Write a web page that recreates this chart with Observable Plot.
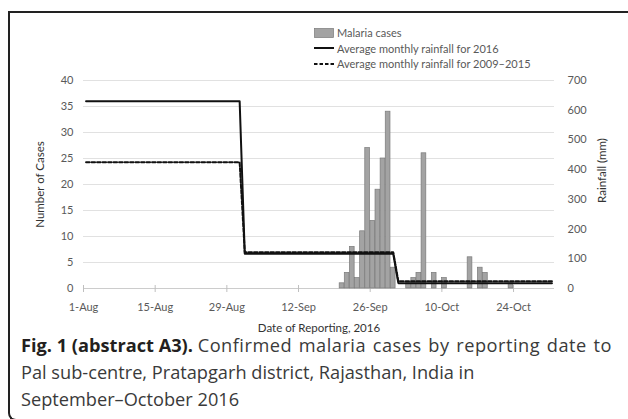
<!DOCTYPE html>
<html><head><meta charset="utf-8">
<script src="https://cdn.jsdelivr.net/npm/d3@7"></script>
<script src="https://cdn.jsdelivr.net/npm/@observablehq/plot@0.6"></script>
<style>
body{margin:0;background:#fff;width:628px;height:419px;overflow:hidden;position:relative;font-family:Lato,sans-serif}
#frame{position:absolute;left:8px;top:11px;width:700px;height:410px;border-left:2px solid #222;border-top:2px solid #222;border-bottom:2px solid #222;border-bottom-left-radius:8px;box-sizing:border-box}
#chart{position:absolute;left:0;top:0}
#legend{position:absolute;left:314px;top:25px;font-family:Lato,sans-serif;font-size:11px;color:#595959}
#legend .row{display:flex;align-items:center;height:15.5px;white-space:nowrap}
#legend svg{margin-right:3px}
#caption{position:absolute;left:21px;top:332px;font-family:"Open Sans",sans-serif;font-size:18.2px;line-height:26.8px;color:#3a3a3a;white-space:nowrap}
#caption .s{letter-spacing:0.5px;word-spacing:1.5px}
#caption b{color:#231f20;font-weight:700}
</style></head>
<body>
<div id="frame"></div>
<div id="chart"></div>
<div id="legend"></div>
<div id="caption"><div><b>Fig. 1 (abstract A3).</b> <span class="s">Confirmed malaria cases by reporting date to</span></div><div>Pal sub-centre, Pratapgarh district, Rajasthan, India in</div><div>September–October 2016</div></div>
<script>
// Daily confirmed malaria cases (days not listed = 0)
const caseDates = ["2016-09-20","2016-09-21","2016-09-22","2016-09-23","2016-09-24","2016-09-25","2016-09-26","2016-09-27","2016-09-28","2016-09-29","2016-09-30","2016-10-03","2016-10-04","2016-10-05","2016-10-06","2016-10-08","2016-10-10","2016-10-15","2016-10-17","2016-10-18","2016-10-23"];
const caseCounts = [1,3,8,2,11,27,13,19,25,34,4,1,2,3,26,3,2,6,4,3,1];

// Average monthly rainfall (mm)
const monthStarts = ["2016-08-01","2016-09-01","2016-10-01"];
const monthEnds = ["2016-08-31","2016-09-30","2016-10-31"];
const rain2016 = [630,117,18];
const rain2009to2015 = [425,122,24];

// Axis ticks
const leftTicks = [0,5,10,15,20,25,30,35,40];
const rightTicks = [0,100,200,300,400,500,600,700];
const xTickDates = ["2016-08-01","2016-08-15","2016-08-29","2016-09-12","2016-09-26","2016-10-10","2016-10-24"];
const xTickLabels = ["1-Aug","15-Aug","29-Aug","12-Sep","26-Sep","10-Oct","24-Oct"];

const ratio = rightTicks[rightTicks.length-1] / leftTicks[leftTicks.length-1];
const HALF_DAY = 12*3600*1000;
const cases = caseDates.map((d,i) => ({date: new Date(d), count: caseCounts[i]}));
function rainRows(vals){
  const rows = [];
  monthStarts.forEach((m,i) => {
    rows.push({date: new Date(+new Date(m) + HALF_DAY), mm: vals[i]});
    rows.push({date: new Date(+new Date(monthEnds[i]) + HALF_DAY), mm: vals[i]});
  });
  return rows;
}
const r2016 = rainRows(rain2016);
const rAvg = rainRows(rain2009to2015);
const xTicks = xTickDates.map(d => new Date(d));
const labelMap = new Map(xTicks.map((d,i) => [+d, xTickLabels[i]]));

const chart = Plot.plot({
  width: 628, height: 340,
  marginLeft: 83, marginRight: 74, marginTop: 80, marginBottom: 52,
  style: {fontFamily: "Lato, sans-serif", fontSize: "11px", color: "#595959", background: "transparent", overflow: "visible"},
  x: {type: "utc", domain: [new Date("2016-08-01"), new Date("2016-11-01")]},
  y: {domain: [0, 40]},
  marks: [
    Plot.gridY({ticks: leftTicks.filter(v => v > 0), stroke: "#d9d9d9", strokeOpacity: 1, strokeWidth: 0.8}),
    Plot.ruleY([0], {stroke: "#bfbfbf", strokeWidth: 0.8}),
    Plot.axisX({ticks: xTicks, tickSize: 7, dy: -3, tickFormat: () => "", label: null, stroke: "#bfbfbf"}),
    Plot.rectY(cases, {x: "date", y: "count", interval: "day", fill: "#a3a3a3", stroke: "#7a7a7a", strokeWidth: 0.7, insetLeft: 0.2, insetRight: 0.2}),
    Plot.line(rAvg, {x: "date", y: d => d.mm / ratio, stroke: "#111", strokeWidth: 2, strokeDasharray: "3.5,2"}),
    Plot.line(r2016, {x: "date", y: d => d.mm / ratio, stroke: "#111", strokeWidth: 2}),
    Plot.axisX({ticks: xTicks, tickSize: 0, tickPadding: 15, tickFormat: d => labelMap.get(+d), label: null}),
    Plot.axisY({ticks: leftTicks, tickSize: 0, tickPadding: 10, label: null}),
    Plot.axisY({anchor: "right", ticks: rightTicks.map(v => v / ratio), tickSize: 0, tickPadding: 13, tickFormat: d => Math.round(d * ratio), label: null}),
    Plot.text(["Date of Reporting, 2016"], {frameAnchor: "bottom", dy: 40, fontSize: 11.5, fill: "#333", textAnchor: "middle", lineAnchor: "middle"}),
    Plot.text(["Number of Cases"], {frameAnchor: "left", dx: -43, rotate: -90, fontSize: 11.5, fill: "#333", textAnchor: "middle", lineAnchor: "middle"}),
    Plot.text(["Rainfall (mm)"], {frameAnchor: "right", dx: 48, dy: -14, rotate: -90, fontSize: 11.5, fill: "#333", textAnchor: "middle", lineAnchor: "middle"})
  ]
});
document.getElementById("chart").appendChild(chart);

// Legend
const legendItems = [
  {label: "Malaria cases", type: "bar"},
  {label: "Average monthly rainfall for 2016", type: "solid"},
  {label: "Average monthly rainfall for 2009–2015", type: "dash"}
];
const lg = document.getElementById("legend");
legendItems.forEach(it => {
  const row = document.createElement("div");
  row.className = "row";
  let sw;
  if (it.type === "bar") sw = '<svg width="20" height="10"><rect x="0.5" y="0.5" width="19" height="9" fill="#a3a3a3" stroke="#7a7a7a" stroke-width="0.7"/></svg>';
  else sw = '<svg width="20" height="10"><line x1="0" x2="20" y1="5" y2="5" stroke="#111" stroke-width="2"' + (it.type === "dash" ? ' stroke-dasharray="3.5,2"' : '') + '/></svg>';
  row.innerHTML = sw + '<span>' + it.label + '</span>';
  lg.appendChild(row);
});
</script>
</body></html>
